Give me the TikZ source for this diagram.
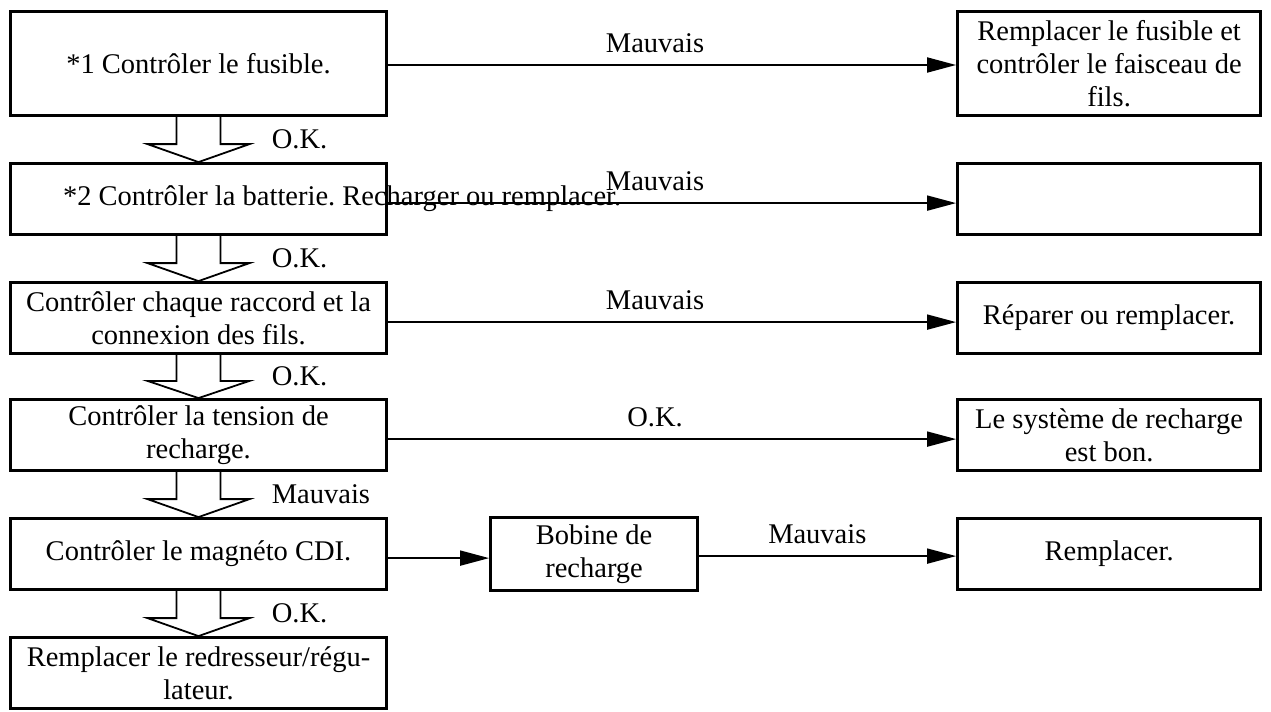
\documentclass[tikz,border=0pt]{standalone}
\usepackage{fontspec}
\setmainfont{Liberation Serif}
\usetikzlibrary{positioning,arrows.meta,calc}
\newcommand{\diagfont}{\fontsize{14.25pt}{16.5pt}\selectfont}
\frenchspacing

\begin{document}
\begin{tikzpicture}[
    x=0.5pt, y=0.5pt,
    lbox/.style={draw, line width=1.6pt, minimum width=188pt,
                 minimum height=35.4pt, align=center, inner sep=2pt,
                 font=\diagfont},
    rbox/.style={lbox, minimum width=151.4pt},
    bbox/.style={lbox, minimum width=103.4pt, minimum height=36.4pt},
    lbl/.style={font=\diagfont},
    oklbl/.style={font=\diagfont, anchor=west, inner sep=0pt},
    ar/.style={-{Triangle[length=14.5pt,width=7.5pt]}, line width=0.9pt},
    hollow/.style={line width=0.9pt, line join=miter},
  ]
    \useasboundingbox (0,0) rectangle (1271,-712);

    % -- left column: checks -------------------------------------------
    \node[lbox, minimum height=52pt] (b1) at (198.5,-63.5)
      {*1 Contrôler le fusible.};
    \node[lbox, below=22.5pt of b1] (b2)
      {\makebox[135.5pt][l]{*2 Contrôler la batterie. Recharger ou remplacer.}};
    \node[lbox, below=22.5pt of b2] (b3)
      {Contrôler chaque raccord et la\\connexion des fils.};
    \node[lbox, below=21.5pt of b3] (b4)
      {Contrôler la tension de\\recharge.};
    \node[lbox, below=22.5pt of b4] (b5) {Contrôler le magnéto CDI.};
    \node[lbox, below=22.5pt of b5] (b6)
      {Remplacer le redresseur/régu-\\lateur.};

    % -- right column: results -----------------------------------------
    \node[rbox, minimum height=52pt, right=284pt of b1] (r1)
      {Remplacer le fusible et\\contrôler le faisceau de\\fils.};
    \node[rbox, right=284pt of b2] (r2) {};
    \node[rbox, right=284pt of b3] (r3) {Réparer ou remplacer.};
    \node[rbox, right=284pt of b4] (r4) {Le système de recharge\\est bon.};
    \node[bbox, right=50.5pt of b5] (bob) {Bobine de\\recharge};
    \node[rbox, right=128.5pt of bob] (r5) {Remplacer.};

    % -- hollow arrows down the left column ----------------------------
    \foreach \a/\b/\t in {b1/b2/O.K., b2/b3/O.K., b3/b4/O.K.,
                          b4/b5/Mauvais, b5/b6/O.K.} {
      \draw[hollow] ($(\a.south)+(-22,0)$)
        -- ($(\a.south)!0.6!(\b.north)+(-22,0)$) -- ++(-29,0)
        -- (\b.north)
        -- ($(\a.south)!0.6!(\b.north)+(51,0)$) -- ++(-29,0)
        -- ($(\a.south)+(22,0)$);
      \node[oklbl] (ok\a) at ($(\a.south)!0.5!(\b.north)+(73,0)$) {\t};
    }

    % -- arrows to the right -------------------------------------------
    \foreach \a/\b/\s/\t in {b1/r1/-0.75/Mauvais, b2/r2/-2/Mauvais,
                             b3/r3/-2/Mauvais, b4/r4/-2/O.K.}
      \draw[ar] ([yshift=\s pt]\a.east) --
        node[lbl, pos=0.47, above=2.5pt] {\t} ([yshift=\s pt]\b.west);

    \draw[ar] ([yshift=-2pt]b5.east) -- ([yshift=-2pt]b5.east -| bob.west);
    \draw[ar] ([yshift=-1pt]bob.east) --
      node[lbl, pos=0.46, above=2.5pt] {Mauvais} ([yshift=-1pt]r5.west);
\end{tikzpicture}
\end{document}
